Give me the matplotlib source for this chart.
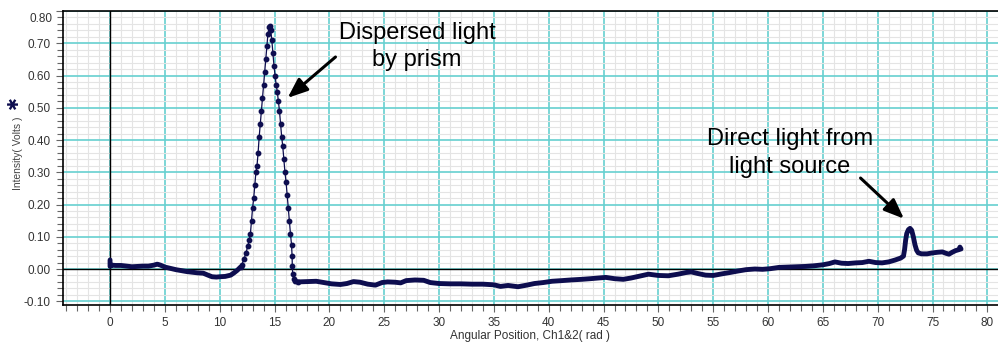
import matplotlib
matplotlib.use("Agg")
import matplotlib.pyplot as plt
from matplotlib.ticker import MultipleLocator, FuncFormatter

plt.rcParams['font.family'] = ['Liberation Sans', 'DejaVu Sans']

# --- scan data: angular position (rad) vs. intensity (V) ---
# baseline before the prism peak
pre_x = [0.0, 0.0, 0.1, 0.5, 1.0, 1.5, 2.0, 2.5, 3.0, 3.5, 4.0, 4.3, 4.6, 5.0,
         5.5, 6.0, 6.5, 7.0, 7.5, 8.0, 8.5, 9.0, 9.3, 9.7, 10.0, 10.5, 11.0,
         11.3, 11.6, 11.9]
pre_y = [0.028, 0.008, 0.012, 0.011, 0.011, 0.009, 0.007, 0.008, 0.009, 0.009,
         0.012, 0.015, 0.012, 0.006, 0.002, -0.002, -0.005, -0.008, -0.010,
         -0.012, -0.013, -0.020, -0.024, -0.025, -0.024, -0.023, -0.019,
         -0.012, -0.004, 0.006]

# dispersed-light peak (individual samples visible)
peak_x = [11.9, 12.0, 12.2, 12.4, 12.55, 12.7, 12.8, 12.9, 13.0, 13.1, 13.2,
          13.3, 13.4, 13.5, 13.6, 13.7, 13.8, 13.9, 14.0, 14.1, 14.2, 14.3,
          14.4, 14.5, 14.55, 14.65, 14.75, 14.85, 14.95, 15.05, 15.15, 15.25,
          15.35, 15.45, 15.55, 15.65, 15.75, 15.85, 15.95, 16.05, 16.15, 16.25,
          16.35, 16.45, 16.55, 16.6, 16.62, 16.65, 16.75, 16.9, 17.1]
peak_y = [0.006, 0.012, 0.030, 0.050, 0.070, 0.090, 0.110, 0.150, 0.190, 0.220,
          0.260, 0.300, 0.320, 0.360, 0.410, 0.450, 0.490, 0.530, 0.570, 0.610,
          0.650, 0.690, 0.730, 0.750, 0.755, 0.740, 0.710, 0.670, 0.630, 0.600,
          0.570, 0.550, 0.520, 0.490, 0.450, 0.410, 0.380, 0.340, 0.300, 0.270,
          0.230, 0.190, 0.150, 0.110, 0.075, 0.040, 0.010, -0.015, -0.030,
          -0.037, -0.040]

# baseline after the prism peak, including the direct-light peak
post_x = [17.1, 18.0, 18.8, 19.5, 20.2, 21.0, 21.6, 22.2, 22.8, 23.5, 24.2,
          24.8, 25.3, 26.0, 26.5, 27.0, 27.8, 28.6, 29.2, 30.0, 31.0, 32.0,
          33.0, 34.0, 35.0, 35.6, 36.3, 37.2, 38.0, 38.7, 39.5, 40.3, 41.2,
          42.0, 43.0, 43.8, 44.5, 45.2, 46.0, 46.8, 47.5, 48.3, 49.1, 50.0,
          50.9, 51.8, 52.5, 53.0, 53.6, 54.3, 55.0, 55.8, 56.5, 57.3, 58.0,
          58.8, 59.5, 60.2, 61.0, 61.8, 62.6, 63.4, 64.2, 65.0, 65.6, 66.1,
          66.7, 67.3, 68.0, 68.6, 69.2, 69.8, 70.4, 71.0, 71.6, 72.1, 72.35,
          72.45, 72.55, 72.65, 72.8, 72.95, 73.1, 73.25, 73.4, 73.55, 73.7,
          74.0, 74.5, 75.0, 75.5, 75.9, 76.2, 76.5, 76.8, 77.1, 77.4, 77.5,
          77.6]
post_y = [-0.040, -0.039, -0.038, -0.042, -0.046, -0.048, -0.045, -0.039,
          -0.041, -0.047, -0.050, -0.042, -0.040, -0.041, -0.043, -0.036,
          -0.034, -0.035, -0.042, -0.045, -0.046, -0.046, -0.047, -0.047,
          -0.049, -0.054, -0.051, -0.055, -0.050, -0.045, -0.042, -0.038,
          -0.036, -0.034, -0.032, -0.030, -0.028, -0.026, -0.030, -0.032,
          -0.028, -0.022, -0.016, -0.020, -0.021, -0.016, -0.011, -0.009,
          -0.014, -0.019, -0.020, -0.015, -0.011, -0.006, -0.002, 0.000,
          -0.001, 0.001, 0.005, 0.006, 0.007, 0.008, 0.010, 0.013, 0.017,
          0.022, 0.018, 0.017, 0.019, 0.020, 0.024, 0.020, 0.019, 0.022,
          0.028, 0.034, 0.040, 0.060, 0.090, 0.110, 0.122, 0.126, 0.120,
          0.100, 0.075, 0.058, 0.050, 0.047, 0.047, 0.050, 0.052, 0.053,
          0.049, 0.046, 0.052, 0.057, 0.060, 0.068, 0.062]

x_ticks = list(range(0, 81, 5))
y_ticks = [-0.10, 0.00, 0.10, 0.20, 0.30, 0.40, 0.50, 0.60, 0.70, 0.80]

NAVY = '#0d0d4f'
W, H = 998, 342

fig = plt.figure(figsize=(W / 100, H / 100), dpi=100)
ax = fig.add_axes([63 / W, 1 - 305 / H, (W - 63) / W, (305 - 11) / H])

ax.set_xlim(-4.29, 80.97)
ax.set_ylim(-0.1116, 0.800)

# grid: fine grey minor lines, cyan major lines
ax.xaxis.set_major_locator(MultipleLocator(5))
ax.xaxis.set_minor_locator(MultipleLocator(1))
ax.yaxis.set_major_locator(MultipleLocator(0.1))
ax.yaxis.set_minor_locator(MultipleLocator(0.02))
ax.set_axisbelow(True)
ax.grid(which='minor', color='#e4e4e4', lw=0.8)
ax.grid(which='major', color='#66d0d0', lw=1.2)

ax.set_xticks(x_ticks)
ax.set_yticks(y_ticks)
ax.yaxis.set_major_formatter(
    FuncFormatter(lambda v, p: '' if v > 0.79 else f'{v:.2f}'))

for side in ('top', 'left', 'bottom'):
    ax.spines[side].set_color('black')
    ax.spines[side].set_linewidth(1.2)
ax.spines['right'].set_visible(False)

ax.tick_params(which='both', direction='out', color='#666666',
               labelcolor='#333333', labelsize=8.5, width=0.8)
ax.tick_params(which='major', length=5)
ax.tick_params(which='minor', length=4)
ax.tick_params(axis='y', pad=4)
ax.tick_params(axis='x', pad=4)

# top label sits just inside the frame
ax.annotate('0.80', xy=(0, 0.80), xycoords=('axes fraction', 'data'),
            xytext=(-7.5, -5.5), textcoords='offset points', ha='right',
            va='center', fontsize=8.5, color='#333333', annotation_clip=False)

# zero axes
ax.axhline(0, color='black', lw=1.0, zorder=1.5)
ax.axvline(0, color='black', lw=1.0, zorder=1.5)

# data
ax.plot(pre_x, pre_y, color=NAVY, lw=3.5, solid_capstyle='round',
        solid_joinstyle='round', zorder=3)
ax.plot(post_x, post_y, color=NAVY, lw=3.5, solid_capstyle='round',
        solid_joinstyle='round', zorder=3)
ax.plot(peak_x, peak_y, color=NAVY, lw=0.9, marker='o', ms=3.2, zorder=3)

# annotations
ax.text(28.0, 0.69, 'Dispersed light\nby prism', ha='center', va='center',
        fontsize=17, color='black', linespacing=1.25)
ax.annotate('', xy=(16.0, 0.525), xytext=(20.75, 0.663),
            arrowprops=dict(arrowstyle='-|>,head_length=0.8,head_width=0.32',
                            mutation_scale=15, lw=2.2, color='black'))

ax.text(62.0, 0.36, 'Direct light from\nlight source', ha='center',
        va='center', fontsize=17, color='black', linespacing=1.35)
ax.annotate('', xy=(72.58, 0.150), xytext=(68.25, 0.288),
            arrowprops=dict(arrowstyle='-|>,head_length=0.8,head_width=0.32',
                            mutation_scale=15, lw=2.2, color='black'))

# axis titles
ax.set_xlabel('Angular Position, Ch1&2( rad )', fontsize=8.5,
              color='#333333', labelpad=0)
fig.text(18 / W, 1 - 153 / H, 'Intensity( Volts )', rotation=90,
         ha='center', va='center', fontsize=7.4, color='#444444')
fig.text(13 / W, 1 - 103 / H, '\u2731', rotation=90, ha='center',
         va='center', fontsize=11, fontweight='bold', color=NAVY,
         family=['DejaVu Sans'])

fig.savefig('out.png', dpi=100)
